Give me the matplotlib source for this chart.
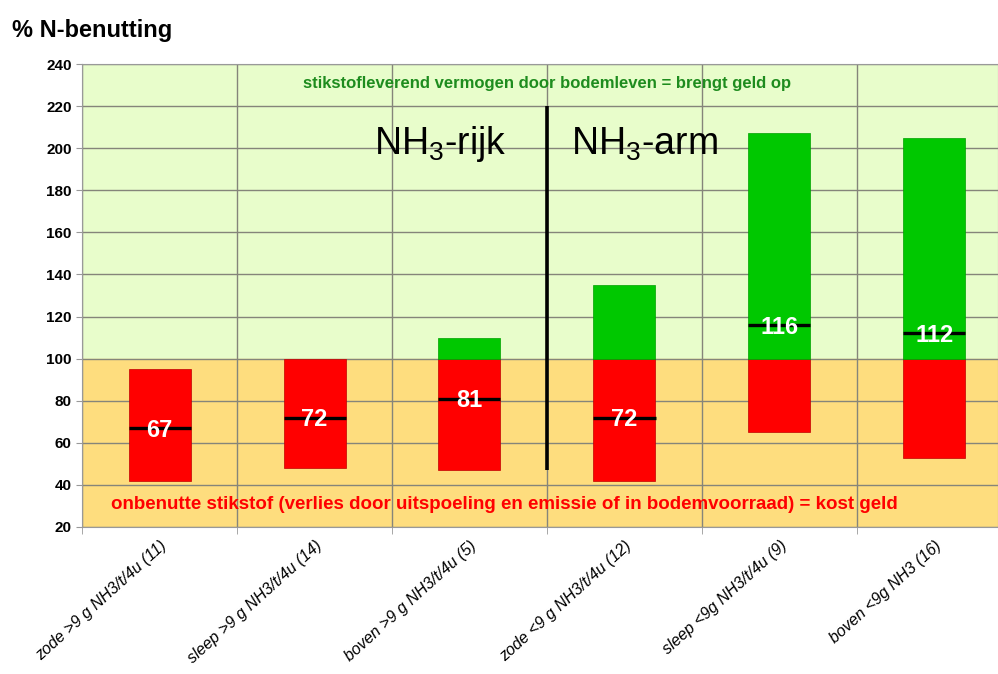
import matplotlib
matplotlib.use("Agg")
import matplotlib.pyplot as plt
import numpy as np

plt.rcParams['font.family'] = ['Liberation Sans', 'DejaVu Sans']
plt.rcParams['mathtext.default'] = 'regular'

# data
categories = ['zode >9 g NH3/t/4u (11)', 'sleep >9 g NH3/t/4u (14)',
              'boven >9 g NH3/t/4u (5)', 'zode <9 g NH3/t/4u (12)',
              'sleep <9g NH3/t/4u (9)', 'boven <9g NH3 (16)']
red_low = [42, 48, 47, 42, 65, 53]
red_high = [95, 100, 100, 100, 100, 100]
green_high = [0, 0, 110, 135, 207, 205]
medians = [67, 72, 81, 72, 116, 112]

fig = plt.figure(figsize=(9.98, 6.74), dpi=100)
ax = fig.add_axes([82/998, 1-527/674, 1-82/998, (527-64)/674])

ax.axhspan(100, 240, color='#e8fdcb', zorder=0)
ax.axhspan(20, 100, color='#fedd7e', zorder=0)

x = np.arange(len(categories))
w = 0.4
ax.bar(x, np.array(red_high) - np.array(red_low), bottom=red_low, width=w,
       color='#ff0000', edgecolor='#c00000', linewidth=0.5, zorder=3)
gx = [i for i, g in enumerate(green_high) if g > 100]
gh = [green_high[i] - 100 for i in gx]
ax.bar(gx, gh, bottom=100, width=w, color='#00c800', edgecolor='#00a000',
       linewidth=0.5, zorder=3)

for i, m in enumerate(medians):
    ax.hlines(m, i - w/2, i + w/2, color='black', linewidth=2.4, zorder=4)
    ax.text(i, m - 1, str(m), color='white', fontsize=17, fontweight='bold',
            ha='center', va='center', zorder=5)

ax.vlines(2.5, 47, 220, color='black', linewidth=2.6, zorder=4)

ax.text(2.5, 230.5, 'stikstofleverend vermogen door bodemleven = brengt geld op',
        color='#1e8c1e', fontsize=12, fontweight='bold', ha='center', va='center',
        zorder=5)
ax.text(2.226, 30.5, 'onbenutte stikstof (verlies door uitspoeling en emissie of in bodemvoorraad) = kost geld',
        color='#ff0000', fontsize=13.5, fontweight='bold', ha='center', va='center',
        zorder=5)
ax.text(1.81, 202, r'NH$_3$-rijk', fontsize=27, ha='center', va='center',
        zorder=5)
ax.text(3.13, 202, r'NH$_3$-arm', fontsize=27, ha='center', va='center',
        zorder=5)

ax.set_yticks(np.arange(20, 241, 20))
ax.set_xticks(x)
ax.set_xticklabels(categories, rotation=42, ha='right', va='top',
                   rotation_mode='anchor', fontstyle='italic', fontsize=11.5)
ax.set_xticks(np.arange(-0.5, 6, 1), minor=True)
ax.set_ylim(20, 240)
ax.set_xlim(-0.5, -0.5 + (998 - 82) / 155)
ax.tick_params(axis='x', which='major', length=0, pad=8)
ax.tick_params(axis='x', which='minor', length=5, color='#999999')
ax.tick_params(axis='y', length=4, color='#999999', labelsize=11)
for lab in ax.get_yticklabels():
    lab.set_fontweight('bold')

ax.grid(True, axis='y', color='#85857a', linewidth=1.0, zorder=1)
ax.grid(True, axis='x', which='minor', color='#85857a', linewidth=1.0, zorder=1)
ax.set_axisbelow(True)
for s in ax.spines.values():
    s.set_color('#999999')

fig.text(12/998, 1-30/674, '% N-benutting', fontsize=17, fontweight='bold',
         ha='left', va='center')

fig.savefig('out.png', dpi=100)
